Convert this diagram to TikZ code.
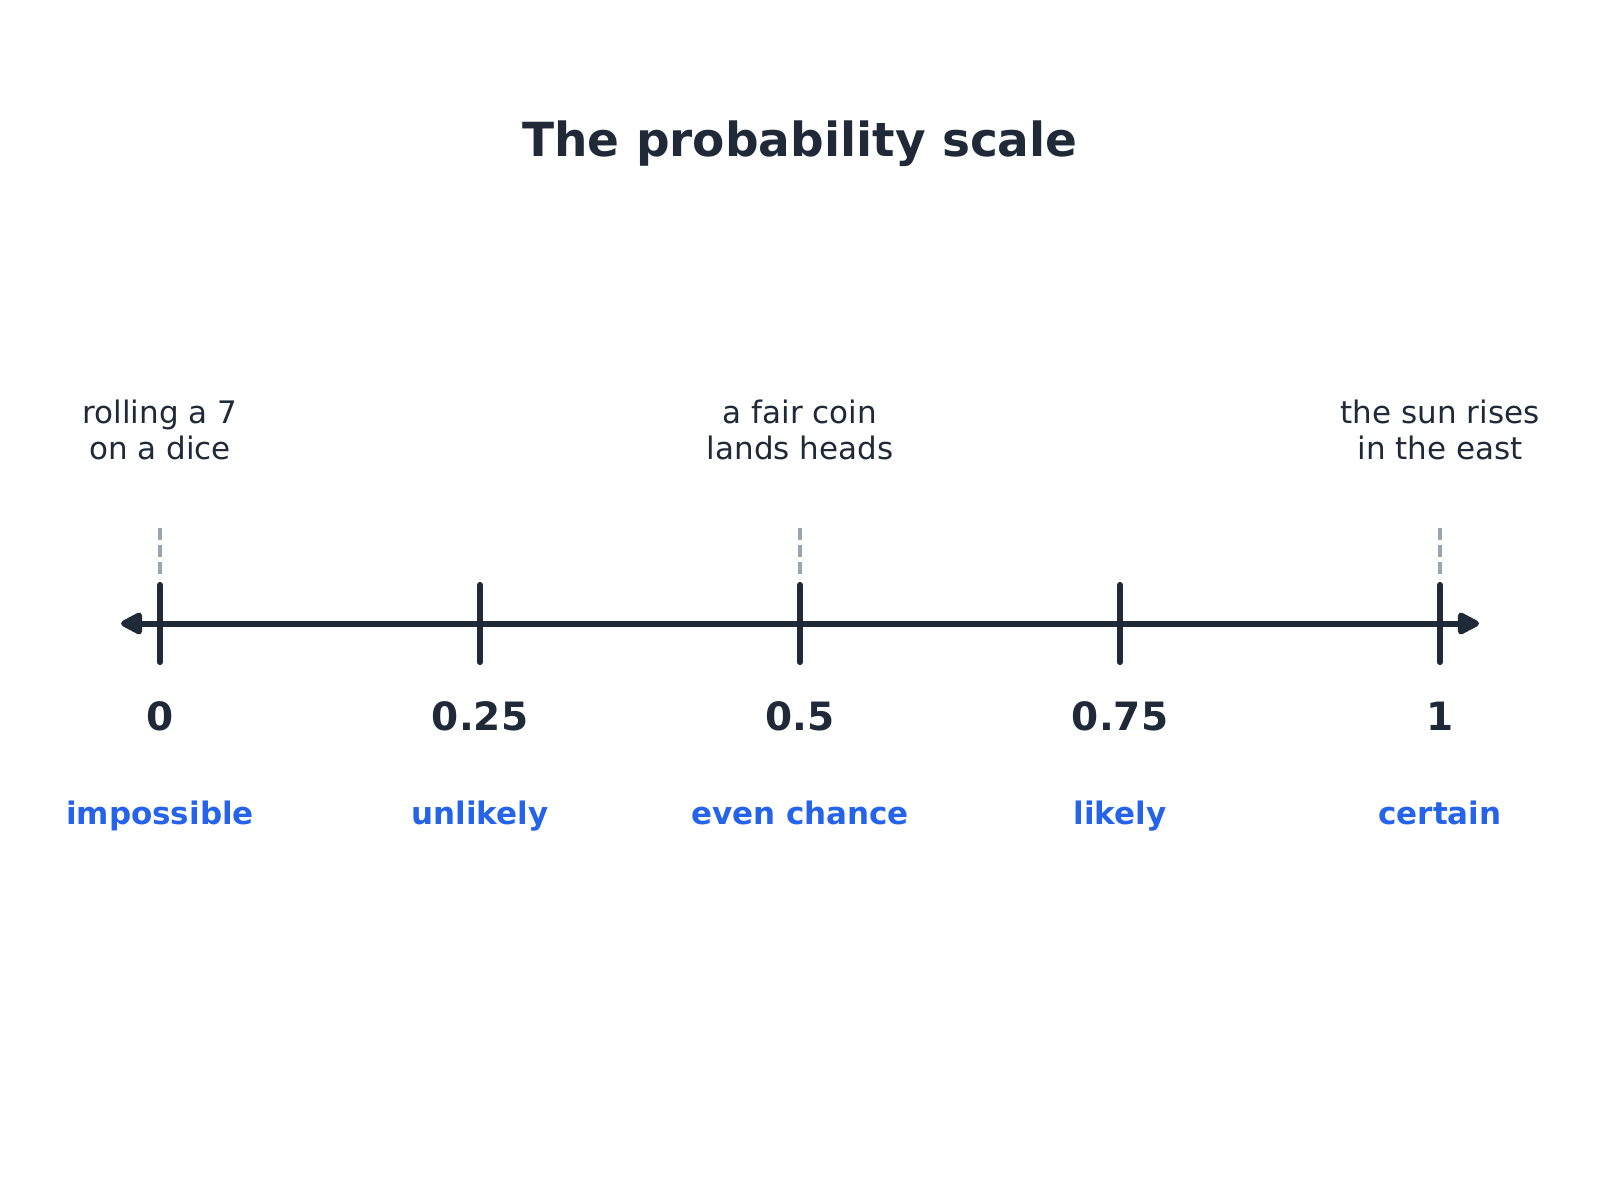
\documentclass[tikz,border=0pt]{standalone}
\usepackage{fontspec}
\setmainfont{DejaVu Sans}
\usepackage{tikz}
\usetikzlibrary{arrows.meta}

\definecolor{ink}{HTML}{1F2937}
\definecolor{bluelab}{HTML}{2563EB}
\definecolor{guide}{HTML}{9AA5B4}

\begin{document}
\begin{tikzpicture}[x=0.5pt,y=-0.5pt,
		axis/.style={draw=ink,line width=3pt,{Triangle[length=12.5pt,width=12pt,round]}-{Triangle[length=12.5pt,width=12pt,round]},color=ink},
		tickmark/.style={draw=ink,line width=3pt,line cap=round},
		guideline/.style={draw=guide,line width=1.6pt,dash pattern=on 6pt off 2.5pt},
		value/.style={text=ink,anchor=base,font=\fontsize{19.5}{23}\selectfont\bfseries},
		verdict/.style={text=bluelab,anchor=base,font=\fontsize{15.5}{18}\selectfont\bfseries},
		event/.style={text=ink,align=center,font=\fontsize{15.5}{18}\selectfont}]
	\useasboundingbox (0,0) rectangle (1600,1200);

	\node[text=ink,font=\fontsize{23.5}{28}\selectfont\bfseries] (title) at (800,144) {The probability scale};

	% points on the scale
	\coordinate (left) at (121,623.5);
	\coordinate (right) at (1479,623.5);
	\coordinate (p0) at (160,623.5);
	\coordinate (p1) at (480,623.5);
	\coordinate (p2) at (800,623.5);
	\coordinate (p3) at (1120,623.5);
	\coordinate (p4) at (1440,623.5);

	\draw[axis] (left) -- (right);
	\draw[tickmark] ([yshift=19.3pt]p0) -- ([yshift=-19.3pt]p0);
	\draw[tickmark] ([yshift=19.3pt]p1) -- ([yshift=-19.3pt]p1);
	\draw[tickmark] ([yshift=19.3pt]p2) -- ([yshift=-19.3pt]p2);
	\draw[tickmark] ([yshift=19.3pt]p3) -- ([yshift=-19.3pt]p3);
	\draw[tickmark] ([yshift=19.3pt]p4) -- ([yshift=-19.3pt]p4);

	\node[value] (n0) at (160,730) {0};
	\node[value] (n1) at (480,730) {0.25};
	\node[value] (n2) at (800,730) {0.5};
	\node[value] (n3) at (1120,730) {0.75};
	\node[value] (n4) at (1440,730) {1};

	\node[verdict] (w0) at (160,824) {impossible};
	\node[verdict] (w1) at (480,824) {unlikely};
	\node[verdict] (w2) at (800,824) {even chance};
	\node[verdict] (w3) at (1120,824) {likely};
	\node[verdict] (w4) at (1440,824) {certain};

	% examples above the line
	\node[event] (e0) at (160,430) {rolling a 7\\on a dice};
	\node[event] (e2) at (800,430) {a fair coin\\lands heads};
	\node[event] (e4) at (1440,430) {the sun rises\\in the east};

	\draw[guideline] ([yshift=48pt]p0) -- ([yshift=24pt]p0);
	\draw[guideline] ([yshift=48pt]p2) -- ([yshift=24pt]p2);
	\draw[guideline] ([yshift=48pt]p4) -- ([yshift=24pt]p4);
\end{tikzpicture}
\end{document}
